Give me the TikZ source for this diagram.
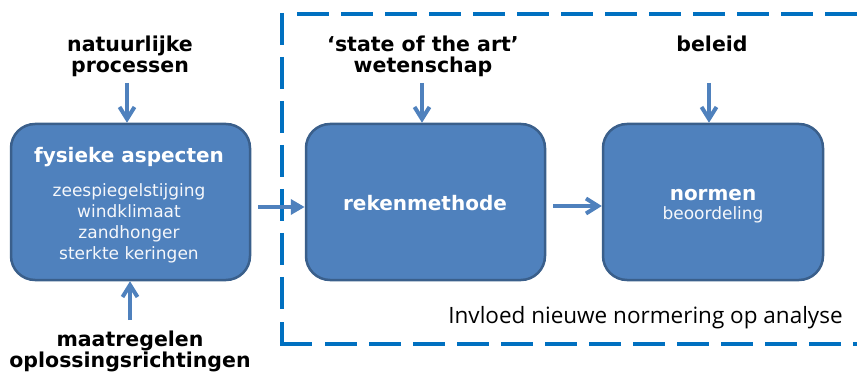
\documentclass[tikz,border=0pt]{standalone}
\usepackage{fontspec}
\setmainfont{DejaVu Sans}
\newfontfamily\capfont{Open Sans}
\usetikzlibrary{arrows.meta}
\definecolor{boxfill}{HTML}{4F81BD}
\definecolor{boxline}{HTML}{3A5F8B}
\definecolor{framecol}{HTML}{0070C0}
\begin{document}
\begin{tikzpicture}[x=1pt,y=-1pt,
  blk/.style={draw=boxline, line width=2.5pt, fill=boxfill, rounded corners=24pt,
    minimum height=156pt, inner sep=0pt},
  lbl/.style={anchor=base, align=center, text=black,
    font=\fontsize{20.5}{21.5}\selectfont\bfseries},
  intitle/.style={anchor=base, align=center, text=white,
    font=\fontsize{20}{21}\selectfont\bfseries},
  intext/.style={anchor=base, align=center, text=white!94!boxfill},
  flow/.style={draw=boxfill, line width=4pt,
    -{Straight Barb[length=12pt,width=15pt]}},
  flowfill/.style={draw=boxfill, line width=4pt,
    -{Triangle[length=14pt,width=15pt]}},
  dashln/.style={draw=framecol, line width=4pt, dash pattern=on 32pt off 12pt},
]
\useasboundingbox (0,0) rectangle (857,374);

% dashed frame
\draw[dashln] (297,14) -- (880,14);
\draw[dashln] (282,13) -- (282,310);
\draw[draw=framecol, line width=4pt] (282,322) -- (282,344) -- (312,344);
\draw[dashln] (325,344) -- (880,344);

% boxes
\node[blk, minimum width=239pt] (b1) at (130.5,202) {};
\node[blk, minimum width=239pt] (b2) at (425.5,202) {};
\node[blk, minimum width=220pt] (b3) at (713,202) {};

% box texts (base anchor = baseline of the last line)
\node[intitle] (t1) at (129,163) {fysieke aspecten};
\node[intext, font=\fontsize{17}{20.7}\selectfont] (t1b) at (129,259)
  {zeespiegelstijging\\windklimaat\\zandhonger\\sterkte keringen};
\node[intitle] (t2) at (425,211) {rekenmethode};
\node[intitle] (t3) at (713,201) {normen};
\node[intext, font=\fontsize{17}{20}\selectfont] (t3b) at (713,220) {beoordeling};

% outer labels
\node[lbl] (l1) at (130,73) {natuurlijke\\processen};
\node[lbl] (l2) at (423,73) {‘state of the art’\\wetenschap};
\node[lbl] (l3) at (712,52) {beleid};
\node[lbl, font=\fontsize{20.5}{19.5}\selectfont\bfseries] (l4) at (130,367)
  {maatregelen\\oplossingsrichtingen};
\node[anchor=base, text=black, font=\capfont\fontsize{22.5}{24}\selectfont]
  (cap) at (645.5,323) {Invloed nieuwe normering op analyse};

% connectors
\coordinate (s1) at (127,83);
\coordinate (s2) at (422,83);
\coordinate (s3) at (709,83);
\coordinate (s4) at (130,320);
\draw[flow] (s1) -- (s1 |- b1.north);
\draw[flow] (s2) -- (s2 |- b2.north);
\draw[flow] (s3) -- (s3 |- b3.north);
\draw[flow] (s4) -- (s4 |- b1.south);
\coordinate (h1) at (258,207);
\coordinate (h2) at (553,206);
\draw[flowfill] (h1) -- (h1 -| b2.west);
\draw[flow] (h2) -- (h2 -| b3.west);
\end{tikzpicture}
\end{document}
